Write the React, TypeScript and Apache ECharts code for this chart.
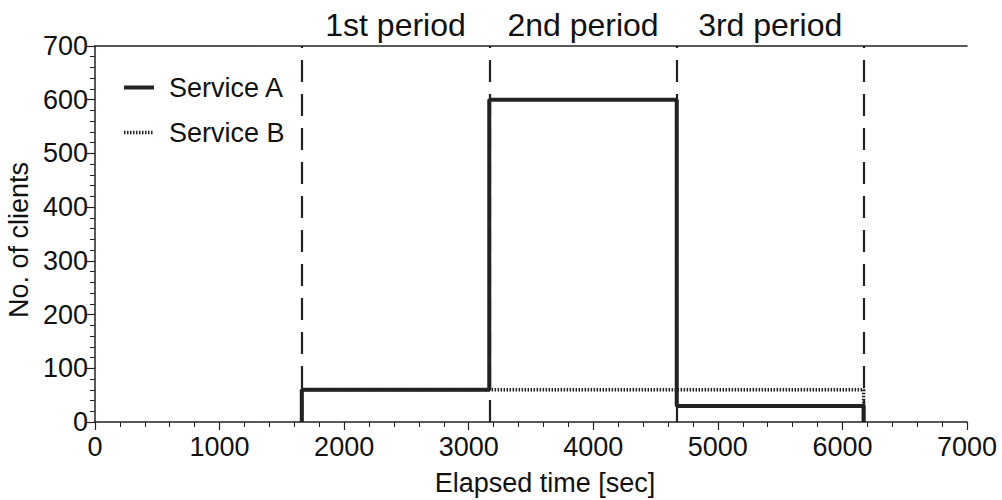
import React, { useEffect, useRef } from "react";
import * as echarts from "echarts";

const xTicks = [0, 1000, 2000, 3000, 4000, 5000, 6000, 7000];
const yTicks = [0, 100, 200, 300, 400, 500, 600, 700];
const serviceA: [number, number][] = [
  [1660, 0],
  [1660, 60],
  [3165, 600],
  [4670, 30],
  [6170, 0],
];
const serviceB: [number, number][] = [
  [1660, 0],
  [1660, 60],
  [6170, 0],
];
const periodBounds = [1660, 3165, 4670, 6170];
const periodLabels = ["1st period", "2nd period", "3rd period"];

const FONT = "Liberation Sans, Arial, sans-serif";

export default function App() {
  const ref = useRef<HTMLDivElement>(null);
  useEffect(() => {
    if (!ref.current) return;
    const chart = echarts.init(ref.current, undefined, { renderer: "svg" });
    const axisColor = "#222";
    chart.setOption({
      animation: false,
      textStyle: { fontFamily: FONT },
      grid: { left: 95, right: 35, top: 46, bottom: 78, containLabel: false, outerBoundsMode: "none" },
      legend: {
        orient: "vertical",
        left: 117,
        top: 69,
        itemGap: 18,
        itemWidth: 30,
        itemHeight: 24,
        itemStyle: { opacity: 0 },
        textStyle: { fontSize: 27, color: "#111", fontFamily: FONT, padding: [0, 0, 0, 10] },
        data: [
          { name: "Service A", lineStyle: { width: 4, color: "#222" } },
          { name: "Service B", lineStyle: { width: 3.5, color: "#222", type: [1.5, 1.5] } },
        ],
      },
      xAxis: [
        {
          type: "value",
          min: xTicks[0],
          max: xTicks[xTicks.length - 1],
          interval: 1000,
          name: "Elapsed time [sec]",
          nameLocation: "middle",
          nameGap: 47,
          nameTextStyle: { fontSize: 27, color: "#111", fontFamily: FONT, padding: [0, 0, 0, 28] },
          axisLine: { lineStyle: { color: axisColor, width: 1.5 } },
          axisTick: { inside: false, length: 8, lineStyle: { color: axisColor, width: 1.2 } },
          minorTick: { show: true, splitNumber: 5, length: 5, lineStyle: { color: axisColor, width: 1 } },
          axisLabel: {
            fontSize: 27,
            color: "#111",
            margin: 11,
            fontFamily: FONT,
            formatter: (v: number) => String(v),
          },
          splitLine: { show: false },
        },
        {
          type: "value",
          position: "top",
          min: xTicks[0],
          max: xTicks[xTicks.length - 1],
          axisLine: { show: true, onZero: false, lineStyle: { color: axisColor, width: 1.5 } },
          axisTick: { show: false },
          axisLabel: { show: false },
          splitLine: { show: false },
        },
      ],
      yAxis: {
        type: "value",
        min: yTicks[0],
        max: yTicks[yTicks.length - 1],
        interval: 100,
        name: "No. of clients",
        nameLocation: "middle",
        nameGap: 63,
        nameTextStyle: { fontSize: 27, color: "#111", fontFamily: FONT, padding: [0, 12, 0, 0] },
        axisLine: { show: true, lineStyle: { color: axisColor, width: 1.5 } },
        axisTick: { show: true, inside: false, length: 8, lineStyle: { color: axisColor, width: 1.2 } },
        minorTick: { show: true, splitNumber: 5, length: 5, lineStyle: { color: axisColor, width: 1 } },
        axisLabel: { fontSize: 27, color: "#111", margin: 7, fontFamily: FONT },
        splitLine: { show: false },
      },
      series: [
        {
          name: "Service B",
          type: "line",
          step: "end",
          symbol: "none",
          data: serviceB,
          lineStyle: { color: "#222", width: 3.5, type: [1.5, 1.5] },
          itemStyle: { color: "#222" },
          z: 2,
        },
        {
          name: "Service A",
          type: "line",
          step: "end",
          symbol: "none",
          data: serviceA,
          lineStyle: { color: "#222", width: 4 },
          itemStyle: { color: "#222" },
          z: 3,
          markLine: {
            silent: true,
            symbol: ["none", "none"],
            label: { show: false },
            lineStyle: { color: "#222", width: 2.2, type: [22, 12] },
            data: periodBounds.map((x) => ({ xAxis: x })),
          },
          markArea: {
            silent: true,
            itemStyle: { color: "transparent" },
            label: {
              show: true,
              position: "top",
              distance: 5,
              fontSize: 32,
              color: "#111",
              fontFamily: FONT,
            },
            data: periodLabels.map((name, i) => [
              { name, xAxis: periodBounds[i], yAxis: 700 },
              { xAxis: periodBounds[i + 1], yAxis: 0 },
            ]),
          },
        },
      ],
    });
    return () => chart.dispose();
  }, []);
  return <div ref={ref} style={{ width: 1002, height: 500, position: "absolute", left: 0, top: 0 }} />;
}
